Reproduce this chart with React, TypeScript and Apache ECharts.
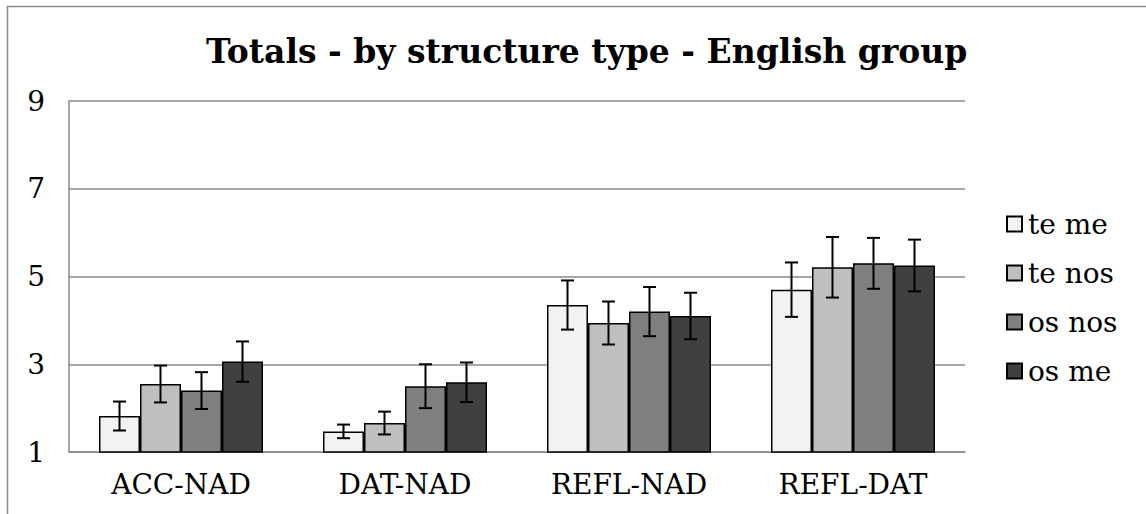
import React, { useEffect, useRef } from "react";
import * as echarts from "echarts";

const categories = ["ACC-NAD", "DAT-NAD", "REFL-NAD", "REFL-DAT"];
const seriesNames = ["te me", "te nos", "os nos", "os me"];
const teMe = [1.82, 1.47, 4.35, 4.7];
const teNos = [2.55, 1.66, 3.94, 5.21];
const osNos = [2.4, 2.5, 4.2, 5.3];
const osMe = [3.06, 2.59, 4.1, 5.25];
const teMeErr = [0.33, 0.155, 0.56, 0.62];
const teNosErr = [0.42, 0.26, 0.49, 0.69];
const osNosErr = [0.42, 0.5, 0.56, 0.58];
const osMeErr = [0.46, 0.45, 0.53, 0.59];
const yTicks = [1, 3, 5, 7, 9];
const titleText = "Totals - by structure type - English group";

const colors = ["#f2f2f2", "#bfbfbf", "#7f7f7f", "#404040"];
const BAR_W = 41;
const FONT = "'DejaVu Serif', serif";

export default function App() {
  const ref = useRef<HTMLDivElement>(null);
  useEffect(() => {
    if (!ref.current) return;
    const chart = echarts.init(ref.current, null, { renderer: "svg" });
    const values = [teMe, teNos, osNos, osMe];
    const errs = [teMeErr, teNosErr, osNosErr, osMeErr];

    const barSeries = seriesNames.map((name, i) => ({
      name,
      type: "bar",
      data: values[i],
      barWidth: BAR_W,
      barGap: "0%",
      clip: true,
      itemStyle: { color: colors[i], borderColor: "#000", borderWidth: 1.5 },
      z: 2,
    }));

    const errSeries = seriesNames.map((name, i) => ({
      name: "err-" + name,
      type: "custom",
      z: 5,
      data: categories.map((_, c) => [c, values[i][c] - errs[i][c], values[i][c] + errs[i][c]]),
      renderItem: (params: any, api: any) => {
        const cat = api.value(0);
        const lo = api.coord([cat, api.value(1)]);
        const hi = api.coord([cat, api.value(2)]);
        const x = lo[0] + (i - 1.5) * BAR_W;
        const hw = 6.5;
        const style = { stroke: "#000", lineWidth: 2 };
        return {
          type: "group",
          children: [
            { type: "line", shape: { x1: x, y1: lo[1], x2: x, y2: hi[1] }, style },
            { type: "line", shape: { x1: x - hw, y1: hi[1], x2: x + hw, y2: hi[1] }, style },
            { type: "line", shape: { x1: x - hw, y1: lo[1], x2: x + hw, y2: lo[1] }, style },
          ],
        };
      },
    }));

    chart.setOption({
      animation: false,
      backgroundColor: "#fff",
      title: {
        text: titleText,
        left: 201,
        top: 30,
        textStyle: { fontFamily: FONT, fontWeight: "bold", fontSize: 33, color: "#000" },
      },
      graphic: [
        {
          type: "rect",
          shape: { x: 7.5, y: 6.5, width: 1300, height: 700 },
          style: { fill: "none", stroke: "#8a8a8a", lineWidth: 1.5 },
          silent: true,
          z: 0,
        },
      ],
      legend: {
        data: seriesNames,
        orient: "vertical",
        left: 1001,
        top: 205,
        icon: "rect",
        itemWidth: 15,
        itemHeight: 15,
        itemGap: 21,
        textStyle: { fontFamily: FONT, fontSize: 28, color: "#000", lineHeight: 28, padding: [0, 0, 0, 1] },
      },
      grid: { left: 69, right: 181, top: 101, bottom: 62 },
      xAxis: {
        type: "category",
        data: categories,
        axisLine: { lineStyle: { color: "#8a8a8a", width: 1.5 } },
        axisTick: { show: false },
        axisLabel: { fontFamily: FONT, fontSize: 28, color: "#000", margin: 18 },
      },
      yAxis: {
        type: "value",
        min: yTicks[0],
        max: yTicks[yTicks.length - 1],
        interval: 2,
        axisLine: { show: true, lineStyle: { color: "#8a8a8a", width: 1.5 } },
        axisTick: { show: false },
        splitLine: { lineStyle: { color: "#8a8a8a", width: 1.5 } },
        axisLabel: { fontFamily: FONT, fontSize: 28, color: "#000", margin: 24 },
      },
      series: [...barSeries, ...errSeries],
    });
    return () => chart.dispose();
  }, []);
  return (
    <div
      ref={ref}
      style={{ position: "fixed", left: 0, top: 0, width: 1146, height: 514 }}
    />
  );
}
